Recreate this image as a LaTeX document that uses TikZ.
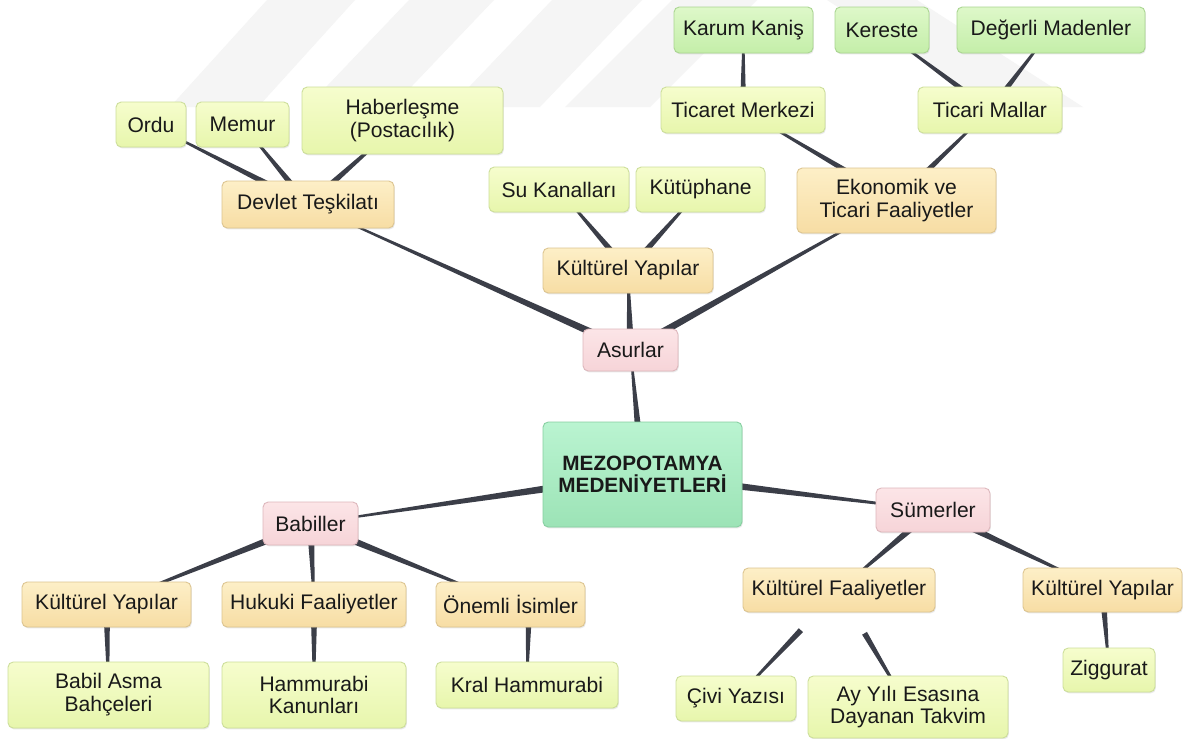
\documentclass[tikz,border=0pt]{standalone}
\usepackage{fontspec}
\setmainfont{Liberation Sans}
\usetikzlibrary{calc,shadows,backgrounds}

\definecolor{kokU}{HTML}{BAF4D1}
\definecolor{kokA}{HTML}{9CE3B6}
\definecolor{kokC}{HTML}{86CFA0}
\definecolor{pembeU}{HTML}{FCE5E7}
\definecolor{pembeA}{HTML}{F6D4D8}
\definecolor{pembeC}{HTML}{DDB6BB}
\definecolor{turuncuU}{HTML}{FDEFC7}
\definecolor{turuncuA}{HTML}{F7DDA4}
\definecolor{turuncuC}{HTML}{DCC48F}
\definecolor{limonU}{HTML}{F6FDCD}
\definecolor{limonA}{HTML}{E7F6AC}
\definecolor{limonC}{HTML}{CCDE99}
\definecolor{yesilU}{HTML}{DEF8C9}
\definecolor{yesilA}{HTML}{C4EEA9}
\definecolor{yesilC}{HTML}{A9D590}
\definecolor{dalrenk}{HTML}{3B3E48}

\tikzset{
    wd/.style={minimum width=#1*0.02cm},
    ht/.style={minimum height=#1*0.02cm},
    kutu/.style={rounded corners=3pt, line width=0.5pt, inner xsep=4pt,
        inner ysep=2pt, align=center, text=black!90,
        font=\fontsize{12}{13}\selectfont,
        drop shadow={opacity=0.18, shadow xshift=0.5pt, shadow yshift=-0.8pt}},
    kok/.style={kutu, top color=kokU, bottom color=kokA, draw=kokC,
        font=\fontsize{11.8}{12.8}\selectfont\bfseries},
    kavim/.style={kutu, top color=pembeU, bottom color=pembeA, draw=pembeC},
    konu/.style={kutu, top color=turuncuU, bottom color=turuncuA, draw=turuncuC},
    ayrinti/.style={kutu, top color=limonU, bottom color=limonA, draw=limonC},
    uc/.style={kutu, top color=yesilU, bottom color=yesilA, draw=yesilC},
    filigran/.style={fill=black!4},
}

% sivrilen dal: #1 ust, #2 alt, #3 kalinlik
\newcommand\baglan[3]{
    \fill[dalrenk] ($(#1)!#3!90:(#2)$) -- ($(#1)!#3!-90:(#2)$)
        -- ($(#2)!0.35pt!90:(#1)$) -- ($(#2)!0.35pt!-90:(#1)$) -- cycle;
}

\begin{document}
\begin{tikzpicture}[x=0.02cm, y=-0.02cm]
    \useasboundingbox (0,0) rectangle (1198,738);

    % kok
    \node[kok, wd=199, ht=105] (kok) at (642.5,474.5) {MEZOPOTAMYA\\MEDENİYETLERİ};

    % Asurlar
    \node[kavim, wd=95, ht=42] (asur) at (630.5,350) {Asurlar};
    \node[konu, wd=172, ht=47] (devlet) at (308,204.5) {Devlet Teşkilatı};
    \node[konu, wd=170, ht=45] (asurkult) at (628,270.5) {Kültürel Yapılar};
    \node[konu, wd=199, ht=65] (ekonomi) at (896.5,200.5) {Ekonomik ve\\Ticari Faaliyetler};
    \node[ayrinti, wd=70, ht=45] (ordu) at (151,124.5) {Ordu};
    \node[ayrinti, wd=93, ht=45] (memur) at (242.5,124.5) {Memur};
    \node[ayrinti, wd=201, ht=67] (posta) at (402.5,120.5) {Haberleşme\\(Postacılık)};
    \node[ayrinti, wd=140, ht=45] (kanal) at (559,189.5) {Su Kanalları};
    \node[ayrinti, wd=129, ht=45] (kutup) at (700.5,189.5) {Kütüphane};
    \node[ayrinti, wd=164, ht=46] (merkez) at (743,110) {Ticaret Merkezi};
    \node[ayrinti, wd=144, ht=46] (mallar) at (990,110) {Ticari Mallar};
    \node[uc, wd=139, ht=46] (karum) at (743.5,30) {Karum Kaniş};
    \node[uc, wd=94, ht=46] (kereste) at (882,30) {Kereste};
    \node[uc, wd=188, ht=46] (maden) at (1051,30) {Değerli Madenler};

    % Babiller
    \node[kavim, wd=95, ht=43] (babil) at (310.5,523.5) {Babiller};
    \node[konu, wd=169, ht=45] (babkult) at (106.5,604.5) {Kültürel Yapılar};
    \node[konu, wd=184, ht=45] (hukuk) at (314,604.5) {Hukuki Faaliyetler};
    \node[konu, wd=149, ht=45] (isim) at (510.5,604.5) {Önemli İsimler};
    \node[ayrinti, wd=201, ht=66] (bahce) at (108.5,695) {Babil Asma\\Bahçeleri};
    \node[ayrinti, wd=184, ht=66] (kanun) at (314,695) {Hammurabi\\Kanunları};
    \node[ayrinti, wd=182, ht=46] (kral) at (527,685) {Kral Hammurabi};

    % Sumerler
    \node[kavim, wd=114, ht=44] (sumer) at (933,510) {Sümerler};
    \node[konu, wd=192, ht=44] (faal) at (839,590) {Kültürel Faaliyetler};
    \node[konu, wd=159, ht=44] (sumkult) at (1102.5,590) {Kültürel Yapılar};
    \node[ayrinti, wd=120, ht=45] (civi) at (736,698.5) {Çivi Yazısı};
    \node[ayrinti, wd=200, ht=62] (takvim) at (908,707) {Ay Yılı Esasına\\Dayanan Takvim};
    \node[ayrinti, wd=92, ht=44] (zig) at (1109,670) {Ziggurat};

    \coordinate (faalA) at ($(faal)!0.37!(civi)$);
    \coordinate (faalB) at ($(faal)!0.37!(takvim)$);
    \coordinate (isimA) at (529,604.5);

    \begin{pgfonlayer}{background}
        \fill[white] (0,0) rectangle (1198,738);
        % filigran
        \fill[filigran] (170,107) -- (258,107) -- (355,0) -- (267,0) -- cycle;
        \fill[filigran] (307,107) -- (392,107) -- (494,0) -- (409,0) -- cycle;
        \fill[filigran] (450,107) -- (540,107) -- (642,0) -- (552,0) -- cycle;
        \fill[filigran] (565,107) -- (650,107) -- (757,0) -- (672,0) -- cycle;
        \fill[filigran] (827,0) -- (917,0) -- (1083,107) -- (993,107) -- cycle;

        \baglan{kok}{asur}{2.6pt}
        \baglan{kok}{babil}{2.6pt}
        \baglan{kok}{sumer}{2.6pt}

        \baglan{asur}{devlet}{2.2pt}
        \baglan{asur}{asurkult}{2.2pt}
        \baglan{asur}{ekonomi}{2.2pt}
        \baglan{devlet}{ordu}{2pt}
        \baglan{devlet}{memur}{2pt}
        \baglan{devlet}{posta}{2pt}
        \baglan{asurkult}{kanal}{2pt}
        \baglan{asurkult}{kutup}{2pt}
        \baglan{ekonomi}{merkez}{2pt}
        \baglan{ekonomi}{mallar}{2pt}
        \baglan{merkez}{karum}{1.8pt}
        \baglan{mallar}{kereste}{1.8pt}
        \baglan{mallar}{maden}{1.8pt}

        \baglan{babil}{babkult}{2.2pt}
        \baglan{babil}{hukuk}{2.2pt}
        \baglan{babil}{isim}{2.2pt}
        \baglan{babkult}{bahce}{2pt}
        \baglan{hukuk}{kanun}{2pt}
        \baglan{isimA}{kral}{2pt}

        \baglan{sumer}{faal}{2.2pt}
        \baglan{sumer}{sumkult}{2.2pt}
        \baglan{faalA}{civi}{1.6pt}
        \baglan{faalB}{takvim}{1.6pt}
        \baglan{sumkult}{zig}{2pt}
    \end{pgfonlayer}
\end{tikzpicture}
\end{document}
